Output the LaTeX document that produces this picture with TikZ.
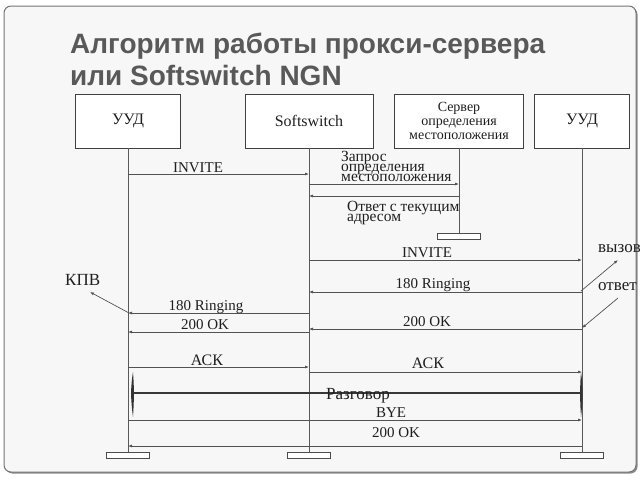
\documentclass[tikz,border=0pt]{standalone}
\usepackage{fontspec}
\setmainfont{Liberation Serif}
\newfontfamily\titlefont{Liberation Sans}
\usetikzlibrary{arrows.meta}
\begin{document}
\begin{tikzpicture}[x=1pt,y=-1pt,
  every node/.style={inner sep=0pt, text=black!88},
  actor/.style={draw=black!75, line width=0.8pt, fill=white, minimum height=54pt, align=center, font=\fontsize{16}{16}\selectfont},
  life/.style={draw=black!65, line width=0.8pt},
  msg/.style={draw=black!68, line width=0.7pt, -{Latex[length=4pt,width=3pt]}},
  lbl/.style={font=\fontsize{15}{15}\selectfont, anchor=base},
  lblc/.style={font=\fontsize{16}{16}\selectfont, anchor=base},
  lblw/.style={font=\fontsize{15.5}{15.5}\selectfont, anchor=base west},
  note/.style={font=\fontsize{17}{17}\selectfont, anchor=base west},
  foot/.style={draw=black!70, line width=0.7pt, fill=white, minimum width=43pt, minimum height=6pt},
  ttl/.style={anchor=base west, font=\titlefont\bfseries\fontsize{28}{28}\selectfont, text=black!65},
]
\useasboundingbox (0,0) rectangle (640,480);
% frame
\fill[black!45, rounded corners=7pt] (5.5,7.5) rectangle (637.5,473.5);
\draw[black!55, fill=black!3, line width=1pt, rounded corners=7pt] (4,6) rectangle (636,472);
% title
\node[ttl] (t1) at (70,53) {Алгоритм работы прокси-сервера};
\node[ttl] (t2) at (70,85) {или Softswitch NGN};
% actors
\node[actor, minimum width=105pt] (u1) at (128,121) {УУД};
\node[actor, minimum width=128pt] (ss) at (309,121) {Softswitch};
\node[actor, minimum width=129pt, font=\fontsize{14}{14}\selectfont] (srv) at (459,121) {Сервер\\определения\\местоположения};
\node[actor, minimum width=95pt] (u2) at (582,121) {УУД};
% footers
\node[foot] (f1) at (128,455) {};
\node[foot] (f2) at (309,455) {};
\node[foot] (f3) at (459,236) {};
\node[foot] (f4) at (582,455) {};
% lifelines
\draw[life] (u1.south) -- (f1.north);
\draw[life] (ss.south) -- (f2.north);
\draw[life] (srv.south) -- (f3.north);
\draw[life] (u2.south) -- (f4.north);
% message end points
\coordinate (m1a) at (128,174); \coordinate (m1b) at (309,174);
\coordinate (m2a) at (309,184); \coordinate (m2b) at (459,184);
\coordinate (m3a) at (459,196); \coordinate (m3b) at (309,196);
\coordinate (m4a) at (309,260); \coordinate (m4b) at (582,260);
\coordinate (m5a) at (582,292); \coordinate (m5b) at (309,292);
\coordinate (m6a) at (309,313); \coordinate (m6b) at (128,313);
\coordinate (m7a) at (582,329); \coordinate (m7b) at (309,329);
\coordinate (m8a) at (309,332); \coordinate (m8b) at (128,332);
\coordinate (m9a) at (128,367); \coordinate (m9b) at (309,367);
\coordinate (m10a) at (309,372); \coordinate (m10b) at (582,372);
\coordinate (m12a) at (128,420); \coordinate (m12b) at (582,420);
\coordinate (m13a) at (582,446); \coordinate (m13b) at (128,446);
% messages
\draw[msg] (m1a) -- (m1b);
\draw[msg] (m2a) -- (m2b);
\draw[msg] (m3a) -- (m3b);
\draw[msg] (m4a) -- (m4b);
\draw[msg] (m5a) -- (m5b);
\draw[msg] (m6a) -- (m6b);
\draw[msg] (m7a) -- (m7b);
\draw[msg] (m8a) -- (m8b);
\draw[msg] (m9a) -- (m9b);
\draw[msg] (m10a) -- (m10b);
\draw[msg] (m12a) -- (m12b);
\draw[msg] (m13a) -- (m13b);
% labels
\node[lbl] (l1) at (198,172) {INVITE};
\node[lblw] (l2a) at (341,161) {Запрос};
\node[lblw] (l2b) at (341,171) {определения};
\node[lblw] (l2c) at (341,181) {местоположения};
\node[lblw] (l3a) at (347,211) {Ответ с текущим};
\node[lblw] (l3b) at (347,221) {адресом};
\node[lbl] (l4) at (427,257) {INVITE};
\node[lbl] (l5) at (433,288) {180 Ringing};
\node[lbl] (l6) at (206,310) {180 Ringing};
\node[lbl] (l7) at (427,326) {200 OK};
\node[lbl] (l8) at (205,329) {200 OK};
\node[lblc] (l9) at (207,365) {АСК};
\node[lblc] (l10) at (428,368) {АСК};
\node[lbl] (l12) at (391,417) {BYE};
\node[lbl] (l13) at (396,437) {200 OK};
% conversation
\coordinate (cva) at (133,393); \coordinate (cvb) at (581,393);
\fill[black!80] (133,372) .. controls (130.5,388) and (130.5,398) .. (133,417) .. controls (134.2,398) and (134.2,388) .. (133,372);
\fill[black!80] (581,372) .. controls (579.8,388) and (579.8,398) .. (581,417) .. controls (583.2,398) and (583.2,388) .. (581,372);
\draw[black!78, line width=2.5pt] (cva) -- (cvb);
\node[note, anchor=base] (cvl) at (358,399) {Разговор};
% annotations
\node[note] (kpv) at (65,285) {КПВ};
\node[note] (vyz) at (598,252) {вызов};
\node[note] (otv) at (598,290) {ответ};
\coordinate (k1) at (129,313); \coordinate (k2) at (90,292);
\coordinate (v1) at (581,291); \coordinate (v2) at (618,260);
\coordinate (o1) at (618,298); \coordinate (o2) at (582,328);
\draw[msg] (k1) -- (k2);
\draw[msg] (v1) -- (v2);
\draw[msg] (o1) -- (o2);
\end{tikzpicture}
\end{document}
